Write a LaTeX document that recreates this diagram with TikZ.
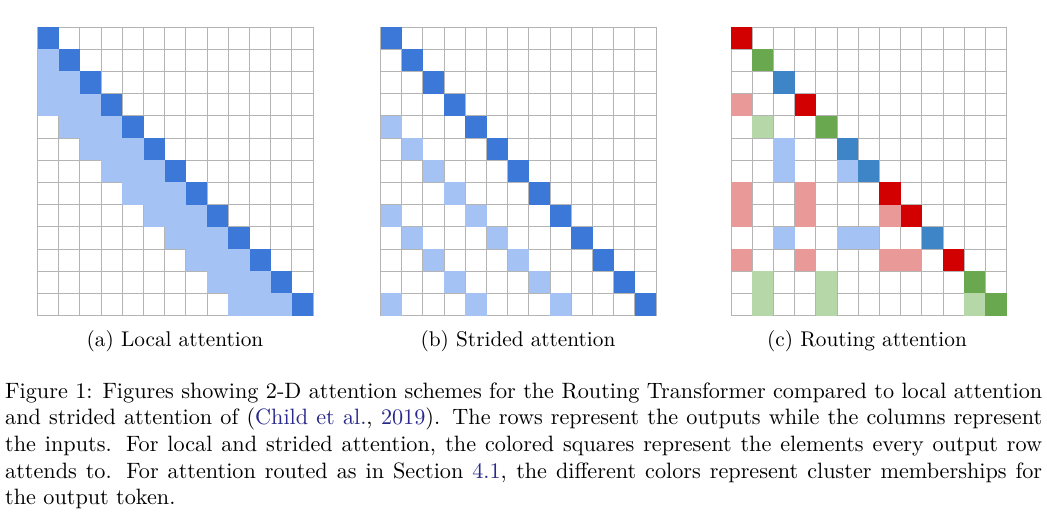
\documentclass[tikz,border=0pt]{standalone}
\usepackage{fontspec}
\setmainfont{lmroman10-regular.otf}
\usepackage{xcolor}
\definecolor{dkblue}{HTML}{3C78D8}
\definecolor{ltblue}{HTML}{A4C2F4}
\definecolor{dkblueb}{HTML}{3D85C6}
\definecolor{dkred}{HTML}{D20000}
\definecolor{ltred}{HTML}{EA9999}
\definecolor{dkgreen}{HTML}{6AA84F}
\definecolor{ltgreen}{HTML}{B6D7A8}
\definecolor{gridgray}{HTML}{B4B4B4}
\definecolor{linkcol}{RGB}{40,40,140}
\newcommand\mycell[4]{\fill[#1] ({#2+(#4)*21.2},{27+(#3)*22.2}) rectangle ++(21.2,22.2);}
\newcommand\mygrid[1]{\foreach \i in {0,...,13}{\draw[gridline] ({#1+\i*21.2},27) -- ++(0,288.6); \draw[gridline] (#1,{27+\i*22.2}) -- ++(275.6,0);}}
\tikzset{
  gridline/.style={draw=gridgray, line width=1pt},
  sublabel/.style={inner sep=0pt, font=\fontsize{21.3}{25}\selectfont},
  captext/.style={inner sep=0pt, text width=1037pt, align=justify, font=\fontsize{22.2}{26.7}\selectfont}
}
\begin{document}
\begin{tikzpicture}[x=1pt,y=-1pt]
\useasboundingbox (0,0) rectangle (1047,530);
\fill[white] (0,0) rectangle (1047,530);
% (a) local attention
\mygrid{37.5}
\foreach \r in {1,...,12}{%
  \pgfmathtruncatemacro\lo{max(0,\r-3)}%
  \pgfmathtruncatemacro\hi{\r-1}%
  \foreach \c in {\lo,...,\hi}{\mycell{ltblue}{37.5}{\r}{\c}}}
\foreach \r in {0,...,12}{\mycell{dkblue}{37.5}{\r}{\r}}
% (b) strided attention
\mygrid{380.5}
\foreach \r/\c in {4/0,5/1,6/2,7/3,8/0,8/4,9/1,9/5,10/2,10/6,11/3,11/7,12/0,12/4,12/8}{\mycell{ltblue}{380.5}{\r}{\c}}
\foreach \r in {0,...,12}{\mycell{dkblue}{380.5}{\r}{\r}}
% (c) routing attention
\mygrid{731}
\foreach \r/\c in {3/0,7/0,7/3,8/0,8/3,8/7,10/0,10/3,10/7,10/8}{\mycell{ltred}{731}{\r}{\c}}
\foreach \r/\c in {4/1,11/1,11/4,12/1,12/4,12/11}{\mycell{ltgreen}{731}{\r}{\c}}
\foreach \r/\c in {5/2,6/2,6/5,9/2,9/5,9/6}{\mycell{ltblue}{731}{\r}{\c}}
\foreach \r in {0,3,7,8,10}{\mycell{dkred}{731}{\r}{\r}}
\foreach \r in {1,4,11,12}{\mycell{dkgreen}{731}{\r}{\r}}
\foreach \r in {2,5,6,9}{\mycell{dkblueb}{731}{\r}{\r}}
% labels
\node[sublabel, anchor=base] (la) at (175,346) {(a) Local attention};
\node[sublabel, anchor=base] (lb) at (518,346) {(b) Strided attention};
\node[sublabel, anchor=base] (lc) at (867,346) {(c) Routing attention};
\node[captext, anchor=base west] (cap) at (5,398) {\noindent Figure 1: Figures showing 2-D attention schemes for the Routing Transformer compared to local attention\linebreak and strided attention of (\textcolor{linkcol}{Child et al.}, \textcolor{linkcol}{2019}). The rows represent the outputs while the columns represent\linebreak the inputs. For local and strided attention, the colored squares represent the elements every output row\linebreak attends to. For attention routed as in Section \textcolor{linkcol}{4.1}, the different colors represent cluster memberships for\linebreak the output token.};
\end{tikzpicture}
\end{document}
